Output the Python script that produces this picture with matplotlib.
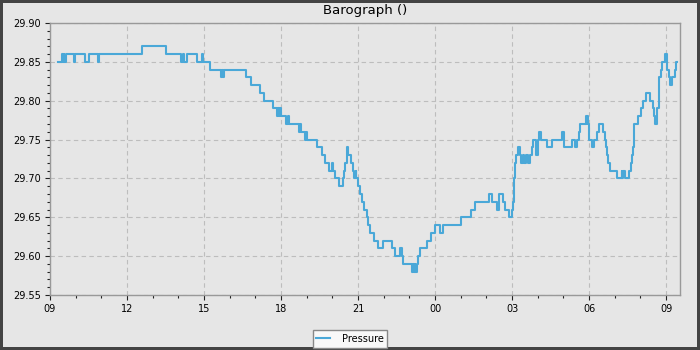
import datetime as dt
import matplotlib
matplotlib.use("Agg")
import matplotlib.pyplot as plt
import matplotlib.dates as mdates

# hours after 09:00 at which the reading changes, and the reading (inHg)
hours = [0.32, 0.48, 0.50, 0.53, 0.56, 0.61, 0.92, 0.97, 1.37, 1.50, 1.86, 1.92,
         3.57, 4.52, 5.09, 5.17, 5.21, 5.32, 5.71, 5.93, 5.97, 6.23,
         6.66, 6.70, 6.73, 6.79, 7.62, 7.82, 8.18, 8.35, 8.70,
         8.85, 8.90, 8.93, 8.97, 9.01, 9.19, 9.27, 9.31, 9.71, 9.75, 9.78,
         9.95, 9.99, 10.02, 10.39, 10.58, 10.71, 10.87, 10.99, 11.03, 11.10,
         11.25, 11.43, 11.47, 11.50, 11.56, 11.61, 11.73, 11.81, 11.86, 11.90,
         11.93, 12.01, 12.08, 12.15, 12.25, 12.34, 12.40, 12.47, 12.64, 12.79,
         12.96, 13.34, 13.44, 13.64, 13.70, 13.76, 14.09, 14.13, 14.16, 14.20,
         14.23, 14.28, 14.32, 14.40, 14.67, 14.83, 15.00, 15.19, 15.32, 16.01,
         16.38, 16.56, 17.11, 17.20, 17.40, 17.50, 17.66, 17.72, 17.88, 17.98,
         18.03, 18.07, 18.10, 18.15, 18.22, 18.31, 18.36, 18.42, 18.47, 18.55,
         18.60, 18.70, 18.78, 18.83, 18.92, 19.00, 19.05, 19.13, 19.37, 19.54,
         19.96, 20.02, 20.32, 20.45, 20.52, 20.62, 20.66, 20.88, 20.91, 20.93,
         20.96, 20.99, 21.01, 21.13, 21.19, 21.30, 21.40, 21.56, 21.61, 21.65,
         21.70, 21.75, 21.80, 22.08, 22.27, 22.30, 22.33, 22.40, 22.57, 22.63,
         22.68, 22.71, 22.76, 22.90, 23.01, 23.11, 23.22, 23.37, 23.48, 23.53,
         23.57, 23.66, 23.71, 23.74, 23.79, 23.84, 23.96, 24.05, 24.11, 24.15,
         24.22, 24.36, 24.39, 24.41]
pressure = [29.85, 29.86, 29.85, 29.86, 29.85, 29.86, 29.85, 29.86, 29.85, 29.86, 29.85, 29.86,
            29.87, 29.86, 29.85, 29.86, 29.85, 29.86, 29.85, 29.86, 29.85, 29.84,
            29.83, 29.84, 29.83, 29.84, 29.83, 29.82, 29.81, 29.80, 29.79,
            29.78, 29.79, 29.78, 29.79, 29.78, 29.77, 29.78, 29.77, 29.76, 29.77, 29.76,
            29.75, 29.76, 29.75, 29.74, 29.73, 29.72, 29.71, 29.72, 29.71, 29.70,
            29.69, 29.70, 29.71, 29.72, 29.74, 29.73, 29.72, 29.71, 29.70, 29.71,
            29.70, 29.69, 29.68, 29.67, 29.66, 29.65, 29.64, 29.63, 29.62, 29.61,
            29.62, 29.61, 29.60, 29.61, 29.60, 29.59, 29.58, 29.59, 29.58, 29.59,
            29.58, 29.59, 29.60, 29.61, 29.62, 29.63, 29.64, 29.63, 29.64, 29.65,
            29.66, 29.67, 29.68, 29.67, 29.66, 29.68, 29.67, 29.66, 29.65, 29.66,
            29.67, 29.70, 29.72, 29.73, 29.74, 29.73, 29.72, 29.73, 29.72, 29.73,
            29.72, 29.73, 29.74, 29.75, 29.73, 29.75, 29.76, 29.75, 29.74, 29.75,
            29.76, 29.74, 29.75, 29.74, 29.75, 29.76, 29.77, 29.78, 29.77, 29.78,
            29.77, 29.76, 29.75, 29.74, 29.75, 29.76, 29.77, 29.76, 29.75, 29.74,
            29.73, 29.72, 29.71, 29.70, 29.71, 29.70, 29.71, 29.70, 29.71, 29.72,
            29.73, 29.74, 29.77, 29.78, 29.79, 29.80, 29.81, 29.80, 29.79, 29.78,
            29.77, 29.79, 29.82, 29.83, 29.84, 29.85, 29.86, 29.84, 29.83, 29.82,
            29.83, 29.84, 29.85, 29.85]

start = dt.datetime(2024, 1, 1, 9, 0)
times = [start + dt.timedelta(hours=h) for h in hours]

bg = '#e6e6e6'
fig = plt.figure(figsize=(7, 3.5), dpi=100, facecolor=bg)
fig.patch.set_edgecolor('#444444')
fig.patch.set_linewidth(3)
ax = fig.add_axes([50/700, 1-295/350, 630/700, 272/350])
ax.set_facecolor(bg)

ax.plot(times, pressure, drawstyle='steps-post', color='#4aa8d8', lw=1.5, label='Pressure')

ax.set_xlim(start, start + dt.timedelta(hours=24.54))
ax.set_ylim(29.55, 29.90)
ax.xaxis.set_major_locator(mdates.HourLocator(byhour=range(0, 24, 3)))
ax.xaxis.set_minor_locator(mdates.HourLocator())
ax.xaxis.set_major_formatter(mdates.DateFormatter('%H'))
ax.set_yticks([29.55, 29.60, 29.65, 29.70, 29.75, 29.80, 29.85, 29.90])
ax.set_yticks([29.55 + i*0.01 for i in range(36)], minor=True)
ax.yaxis.set_major_formatter(matplotlib.ticker.FormatStrFormatter('%.2f'))

ax.grid(True, which='major', color='#bdbdbd', ls=(0, (4, 3)), lw=0.8)
ax.tick_params(which='major', length=3.5, width=0.8, labelsize=7, pad=3, color='#222222')
ax.tick_params(which='minor', length=2, width=0.8, color='#222222')
for s in ax.spines.values():
    s.set_color('#999999')
    s.set_linewidth(1)

ax.set_title('Barograph ()', fontsize=9.5, pad=6.5)

leg = fig.legend(loc='lower center', bbox_to_anchor=(0.5, -0.007), fontsize=7,
                 fancybox=False, framealpha=1, handlelength=1.4,
                 borderpad=0.4, handletextpad=1.2)
leg.get_frame().set_facecolor('#f8f8f8')
leg.get_frame().set_edgecolor('#888888')

fig.savefig('out.png', dpi=100, facecolor=bg, edgecolor='#444444')
